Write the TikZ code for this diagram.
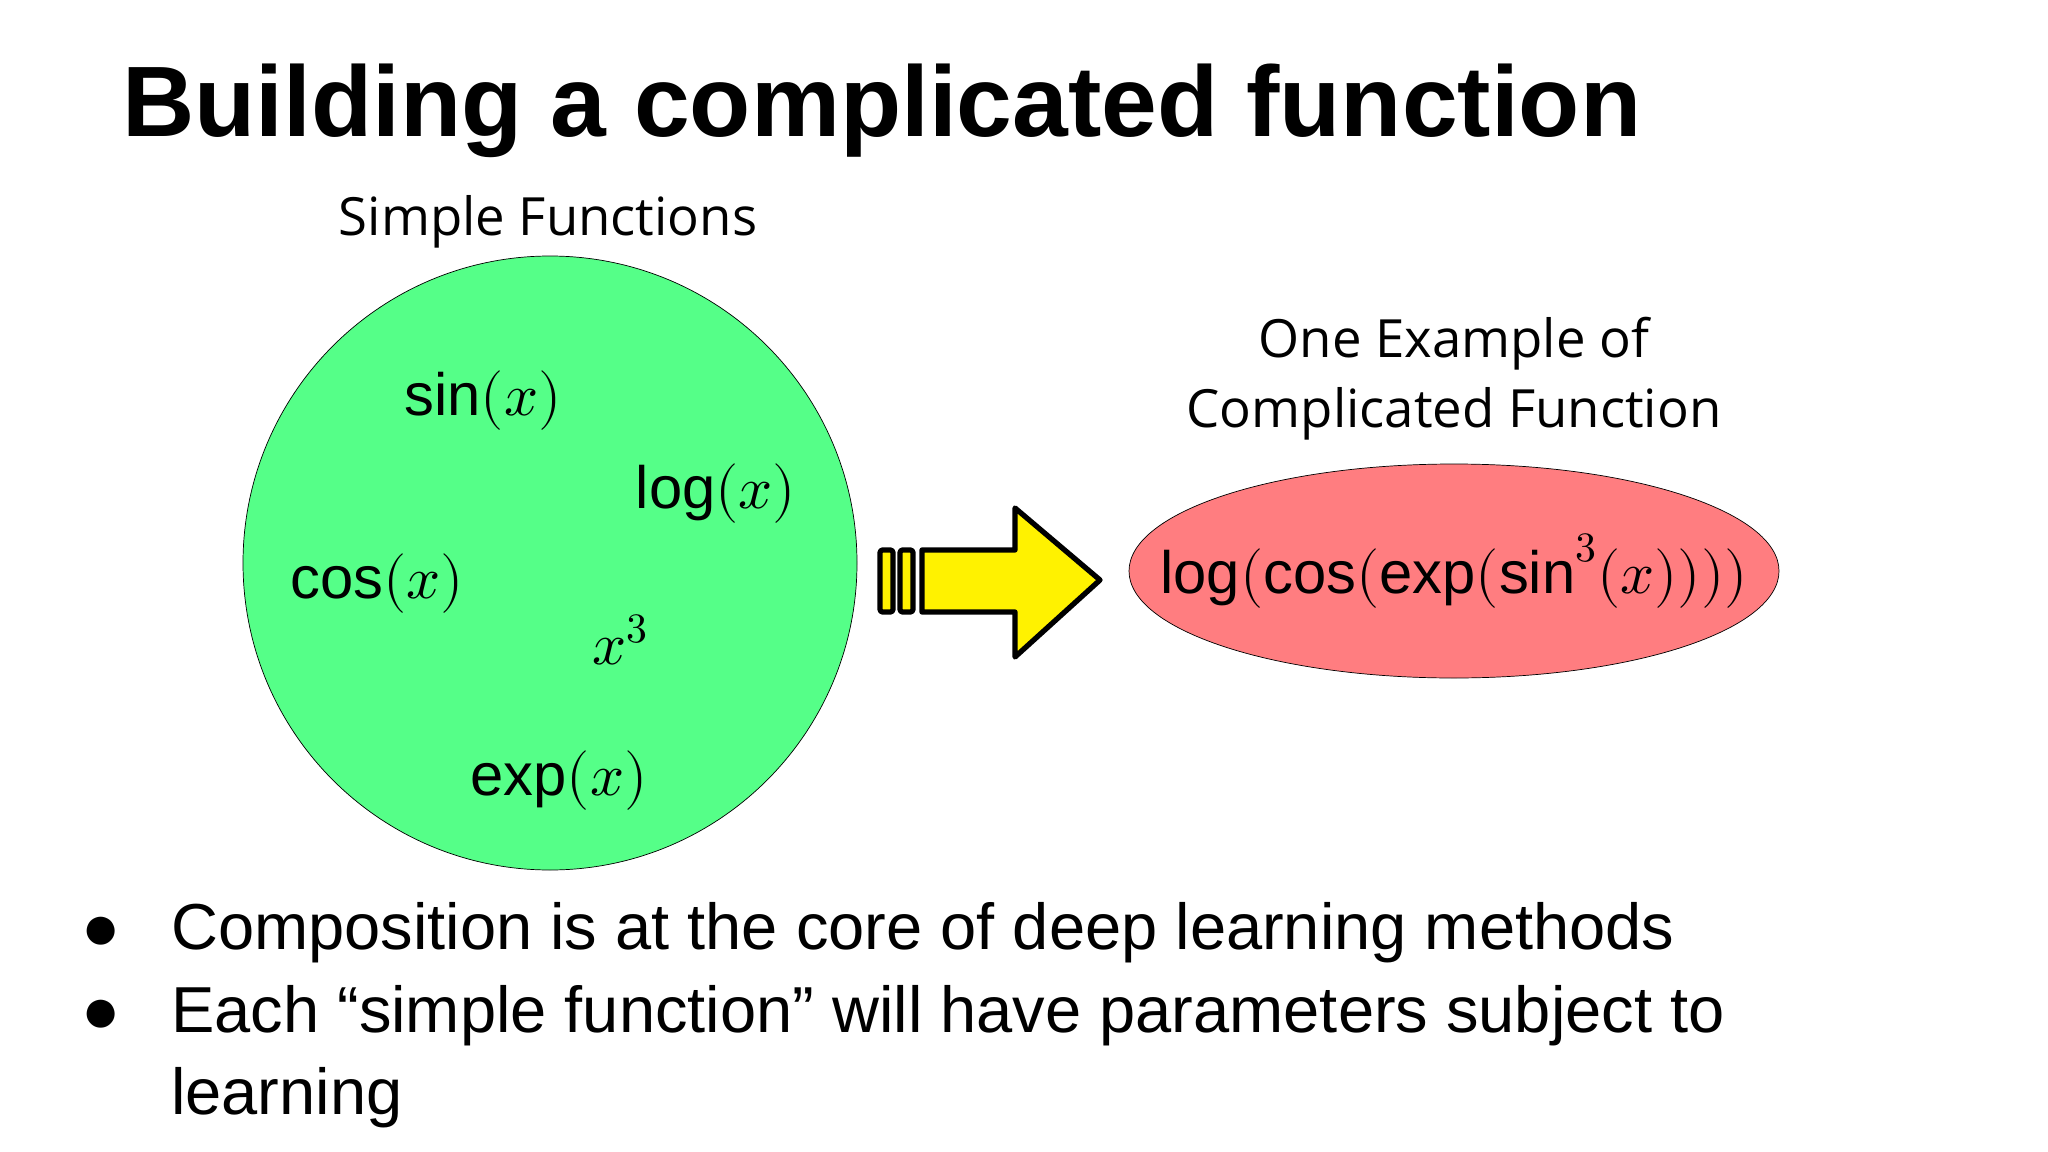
\documentclass[tikz,border=0pt]{standalone}
\usepackage{fontspec}
\setmainfont{Liberation Sans}
\newfontfamily\comic{Open Sans}
\usepackage{unicode-math}
\setmathfont{Latin Modern Math}
\begin{document}
\begin{tikzpicture}[x=0.02cm,y=-0.02cm,
  fn/.style={font=\fontsize{34}{40}\selectfont},
  lab/.style={font=\comic\fontsize{30}{36}\selectfont},
  bul/.style={font=\fontsize{37}{44}\selectfont,anchor=base west}]
\useasboundingbox (0,0) rectangle (2048,1152);
\fill[white] (0,0) rectangle (2048,1152);
\node[anchor=base west,font=\bfseries\fontsize{57}{68}\selectfont,inner sep=0] (title) at (122,137) {Building a complicated function};
\node[lab] (simple) at (548,222) {Simple Functions};
\draw[fill={rgb,255:red,85;green,255;blue,136}] (550,563) circle[radius=307] node (circ) {};
\node[fn] (sin) at (483,401) {$\sin(x)$};
\node[fn] (log) at (716,494) {$\log(x)$};
\node[fn] (cos) at (377,584) {$\cos(x)$};
\node[fn] (cube) at (620,640) {$x^3$};
\node[fn] (exp) at (559,781) {$\exp(x)$};
\begin{scope}[line width=3pt,line join=round,fill=yellow]
\filldraw[rounded corners=1.5pt] (880,550) rectangle (893,612);
\filldraw[rounded corners=1.5pt] (900,550) rectangle (913,612);
\filldraw (922,550) -- (1015,550) -- (1015,508) -- (1100,580) -- (1015,657) -- (1015,612) -- (922,612) -- cycle;
\end{scope}
\node[lab,align=center] (one) at (1454,379) {One Example of\\[4pt]Complicated Function};
\draw[fill={rgb,255:red,255;green,125;blue,128}] (1454,571) ellipse[x radius=325,y radius=107];
\node[fn] (comp) at (1454,571) {$\log(\cos(\exp(\sin^3(x))))$};
\node[bul] (b1) at (75,949) {●};
\node[bul] (b2) at (75,1032) {●};
\node[bul] (t1) at (165,949) {Composition is at the core of deep learning methods};
\node[bul] (t2) at (165,1032) {Each “simple function” will have parameters subject to};
\node[bul] (t3) at (165,1114) {learning};
\end{tikzpicture}
\end{document}
